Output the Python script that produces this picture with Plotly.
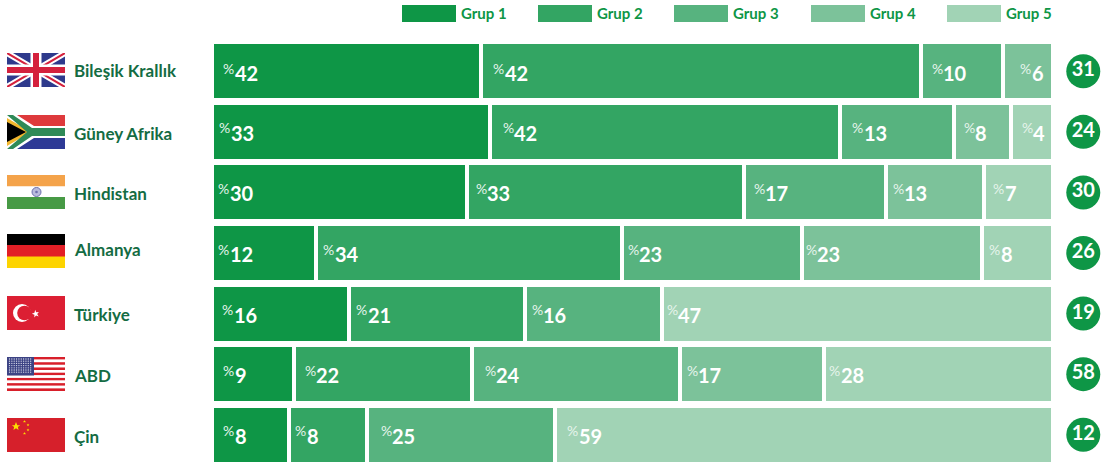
import base64
import plotly.graph_objects as go

# ---------- data ----------
countries = ["Bileşik Krallık", "Güney Afrika", "Hindistan", "Almanya", "Türkiye", "ABD", "Çin"]
groups = ["Grup 1", "Grup 2", "Grup 3", "Grup 4", "Grup 5"]
# drawn bar lengths (share of full bar)
grup1 = [32.0, 33.0, 30.3, 12.4, 16.3, 9.7, 9.2]
grup2 = [52.3, 41.7, 32.9, 36.3, 20.9, 21.2, 9.2]
grup3 = [9.8, 13.5, 16.9, 21.4, 16.3, 24.7, 22.4]
grup4 = [5.9, 6.8, 11.7, 21.5, None, 17.2, None]
grup5 = [None, 5.0, 8.2, 8.4, 46.5, 27.2, 59.2]
# printed percentages
label1 = [42, 33, 30, 12, 16, 9, 8]
label2 = [42, 42, 33, 34, 21, 22, 8]
label3 = [10, 13, 17, 23, 16, 24, 25]
label4 = [6, 8, 13, 23, None, 17, None]
label5 = [None, 4, 7, 8, 47, 28, 59]
counts = [31, 24, 30, 26, 19, 58, 12]

# ---------- style ----------
W, H = 1111, 466
colors = ["#0e9646", "#33a563", "#57b37f", "#7cc29a", "#a1d3b5"]
FONT = "Lato"
PX_PER_UNIT = 8.41
ZERO_PX = 212
pads = [
    [9, 10, 9, 15, 0],
    [5, 11, 10, 8, 9],
    [4, 7, 8, 5, 7],
    [4, 5, 4, 2, 5],
    [8, 5, 5, 0, 3],
    [9, 9, 11, 5, 3],
    [9, 4, 12, 0, 10],
]
name_y = [71, 133, 193, 250, 314, 375, 436]
flag_y = [53, 115, 175, 234, 296, 357, 418]
num_dy = [2, 1, 1, 1, 1, 1, 1]


def px(x):
    return x / W


def py(y):
    return 1 - y / H


def svg_uri(body):
    s = f'<svg xmlns="http://www.w3.org/2000/svg" viewBox="0 0 58 34" width="58" height="34" preserveAspectRatio="none">{body}</svg>'
    return "data:image/svg+xml;base64," + base64.b64encode(s.encode()).decode()


uk = ('<rect width="58" height="34" fill="#2e3a8c"/>'
      '<path d="M0 0L58 34M58 0L0 34" stroke="#fff" stroke-width="6"/>'
      '<path d="M0 0L58 34M58 0L0 34" stroke="#d4213d" stroke-width="2"/>'
      '<path d="M29 0V34M0 17H58" stroke="#fff" stroke-width="11"/>'
      '<path d="M29 0V34M0 17H58" stroke="#d4213d" stroke-width="6"/>')
za = ('<rect width="58" height="17" fill="#de3a3c"/>'
      '<rect y="17" width="58" height="17" fill="#2e3a96"/>'
      '<path d="M0 0L24 17L0 34" fill="#fff"/>'
      '<path d="M0 0H10L27 11H58V23H27L10 34H0Z" fill="#fff"/>'
      '<path d="M0 3L24 17L0 31Z" fill="#f2b72e"/>'
      '<path d="M0 7L19 17L0 27Z" fill="#000"/>'
      '<path d="M0 0H6L25 13H58V21H25L6 34H0L20 17Z" fill="#2f8a58"/>')
ind = ('<rect width="58" height="11.5" fill="#f4a34a"/>'
       '<rect y="11.5" width="58" height="11" fill="#fff"/>'
       '<rect y="22" width="58" height="12" fill="#479a45"/>'
       '<circle cx="29.5" cy="17" r="4.5" fill="#b9bbdc" stroke="#6d70ad" stroke-width="1"/>'
       '<circle cx="29.5" cy="17" r="1.3" fill="#6d70ad"/>')
de = ('<rect width="58" height="11.5" fill="#000"/>'
      '<rect y="11" width="58" height="12" fill="#e21f26"/>'
      '<rect y="22.5" width="58" height="11.5" fill="#fdd400"/>')
tr = ('<rect width="58" height="34" fill="#dc1f33"/>'
      '<circle cx="15" cy="17" r="9" fill="#fff"/>'
      '<circle cx="17.5" cy="17" r="7.3" fill="#dc1f33"/>'
      '<path d="M24 13.5L24.9 16L27.5 15.6L25.9 17.6L27.3 19.9L24.8 19L23.1 21L23.3 18.3L20.8 17.4L23.3 16.4Z" fill="#fff" transform="translate(3,-0.5) scale(1.05)"/>')
us_stripes = "".join(
    f'<rect y="{i * 34 / 13:.2f}" width="58" height="{34 / 13:.2f}" fill="{"#d81f2a" if i % 2 == 0 else "#fff"}"/>'
    for i in range(13))
us_dots = "".join(
    f'<circle cx="{2.5 + c * 2.35:.2f}" cy="{2 + r * 2.2:.2f}" r="0.65" fill="#d8dbea"/>'
    for r in range(7) for c in range(10))
us = us_stripes + '<rect width="27" height="18.5" fill="#3c4384"/>' + us_dots
star = "M0 -1L.29 -.31L.95 -.31L.42 .12L.59 .81L0 .4L-.59 .81L-.42 .12L-.95 -.31L-.29 -.31Z"
cn = ('<rect width="58" height="34" fill="#d6202b"/>'
      f'<path d="{star}" transform="translate(9,8.5) scale(4.4)" fill="#fbe000"/>'
      + "".join(f'<path d="{star}" transform="translate({x},{y}) scale(1.5)" fill="#fbe000"/>'
                for x, y in [(17.5, 3.5), (21, 7), (21, 12), (17.5, 15.5)]))
flags = [uk, za, ind, de, tr, us, cn]

# ---------- figure ----------
fig = go.Figure()
series = [grup1, grup2, grup3, grup4, grup5]
labels = [label1, label2, label3, label4, label5]

for name, vals, col in zip(groups, series, colors):
    fig.add_trace(go.Bar(
        name=name, y=countries, x=vals, orientation="h",
        marker=dict(color=col, line=dict(color="#ffffff", width=4)),
        showlegend=False, hoverinfo="x+y",
    ))

fig.add_trace(go.Scatter(
    x=[103.6] * len(counts), y=countries, mode="markers+text",
    text=[str(c) for c in counts], textposition="middle center",
    textfont=dict(family=FONT, size=20, color="#ffffff", weight="bold"),
    marker=dict(size=34, color="#0e9646", line=dict(width=0)),
    showlegend=False, hoverinfo="skip", cliponaxis=False,
))

ann = []
shapes = []
images = []

# bar labels, placed from the cumulative data
for r, country in enumerate(countries):
    start = 0.0
    for g in range(5):
        v = series[g][r]
        if v is None:
            continue
        lab = labels[g][r]
        xshift = 1 + pads[r][g]
        ann.append(dict(x=start, y=country, xref="x", yref="y", text="%", showarrow=False,
                        xanchor="left", yanchor="middle", xshift=xshift, yshift=-num_dy[r] + 5,
                        borderpad=0, font=dict(family=FONT, size=14, color="#e6f4eb")))
        ann.append(dict(x=start, y=country, xref="x", yref="y", text=f"<b>{lab}</b>", showarrow=False,
                        xanchor="left", yanchor="middle", xshift=xshift + 11.5, yshift=-num_dy[r],
                        borderpad=0, font=dict(family=FONT, size=20, color="#ffffff")))
        start += v

# country names and flags
for r, country in enumerate(countries):
    ann.append(dict(x=px(72.5), y=py(name_y[r]), xref="paper", yref="paper", text=f"<b>{country}</b>",
                    showarrow=False, xanchor="left", yanchor="middle", borderpad=0,
                    font=dict(family=FONT, size=17, color="#146c43")))
    images.append(dict(source=svg_uri(flags[r]), xref="paper", yref="paper", x=px(7), y=py(flag_y[r]),
                       sizex=58 / W, sizey=34 / H, xanchor="left", yanchor="top",
                       sizing="stretch", layer="above"))

# legend
leg_x = [402, 538, 674, 811, 947]
for g, name in enumerate(groups):
    shapes.append(dict(type="rect", xref="paper", yref="paper", x0=px(leg_x[g]), x1=px(leg_x[g] + 54),
                       y0=py(22), y1=py(5), fillcolor=colors[g], line=dict(width=0)))
    ann.append(dict(x=px(leg_x[g] + 57.5), y=py(13), xref="paper", yref="paper", text=f"<b>{name}</b>",
                    showarrow=False, xanchor="left", yanchor="middle", borderpad=0,
                    font=dict(family=FONT, size=15, color="#0e9646")))

fig.update_layout(
    width=W, height=H, barmode="stack", bargap=0.043,
    margin=dict(l=0, r=0, t=0, b=0),
    paper_bgcolor="#ffffff", plot_bgcolor="#ffffff",
    xaxis=dict(range=[-ZERO_PX / PX_PER_UNIT, (W - ZERO_PX) / PX_PER_UNIT], visible=False),
    yaxis=dict(domain=[1 / H, 1 - 41 / H], type="category", categoryorder="array", categoryarray=countries,
               range=[6.5, -0.5], visible=False),
    annotations=ann, shapes=shapes, images=images,
)

fig.write_html("out.html", post_script="document.body.style.margin='0';",
               config=dict(displayModeBar=False))
